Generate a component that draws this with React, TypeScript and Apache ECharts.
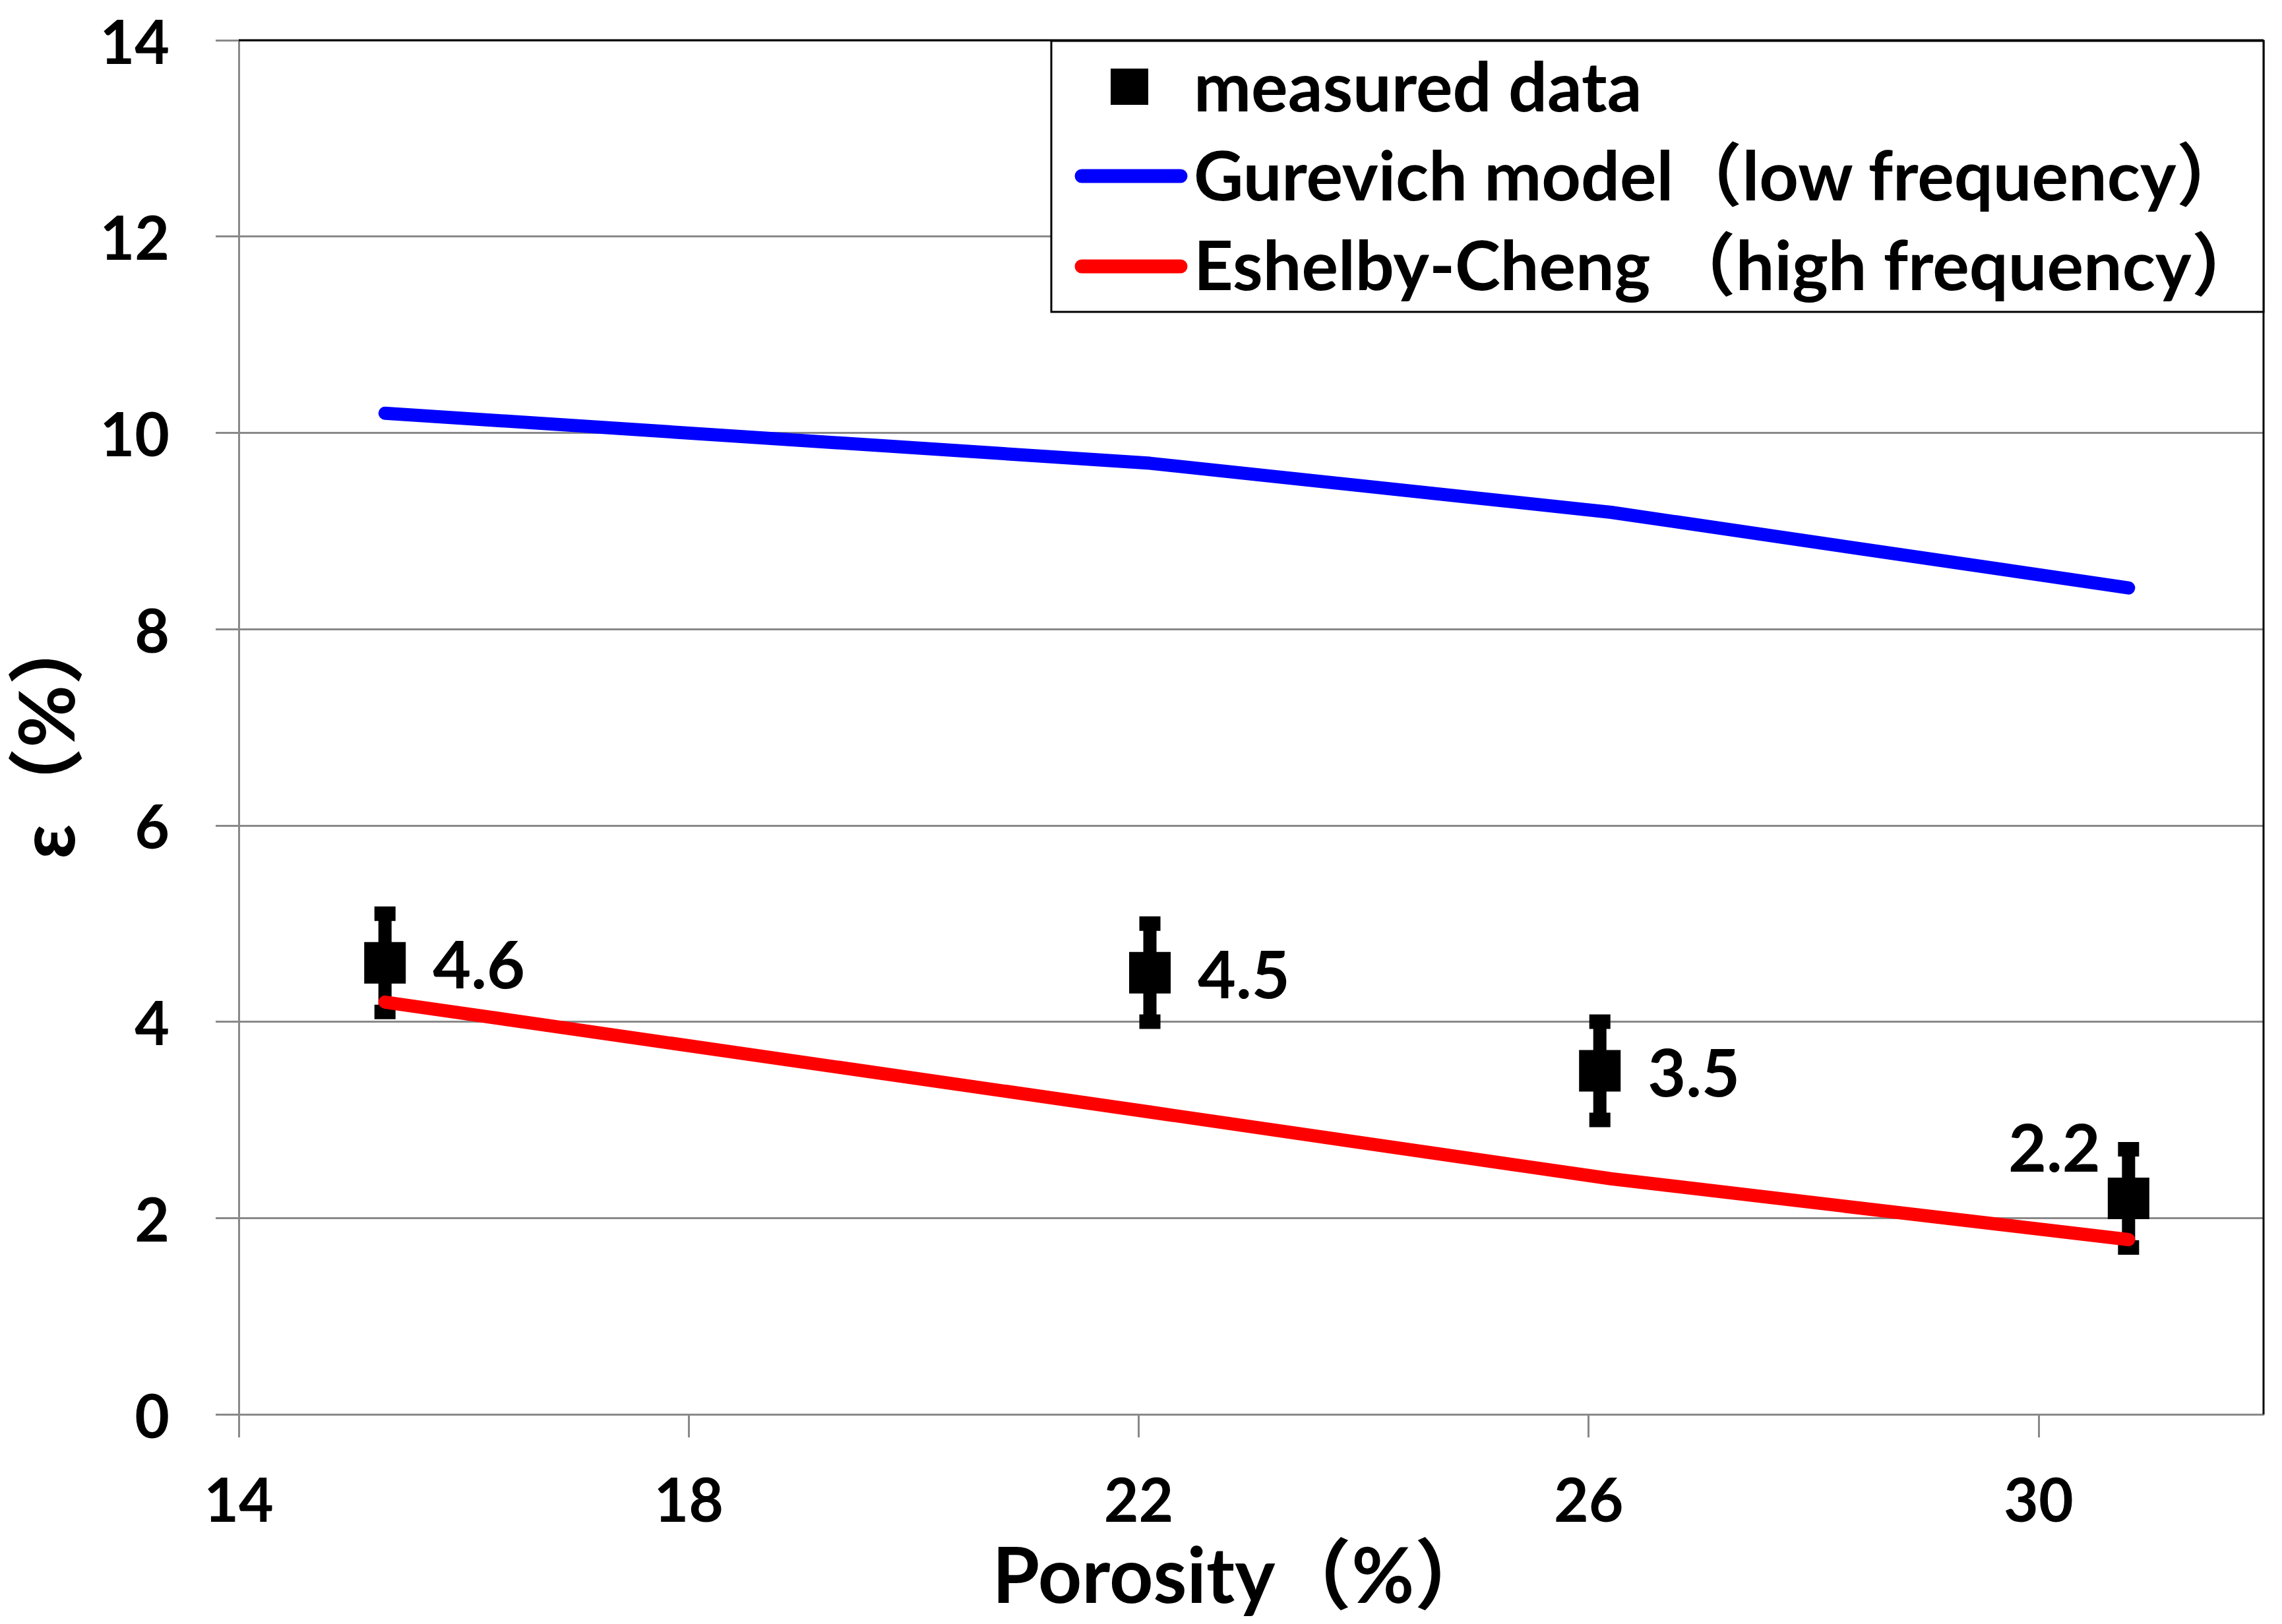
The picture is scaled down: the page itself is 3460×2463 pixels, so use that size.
import React, { useEffect, useRef } from 'react';
import * as echarts from 'echarts';

// ---- data ----
const measuredX = [15.3, 22.1, 26.1, 30.8];
const measuredY = [4.6, 4.5, 3.5, 2.2];
const measuredErr = [0.5, 0.5, 0.5, 0.5];
const modelX = [15.3, 22.1, 26.2, 30.8];
const gurevichY = [10.2, 9.69, 9.19, 8.42];
const eshelbyY = [4.2, 3.08, 2.4, 1.78];
const xTickValues = [14, 18, 22, 26, 30];
const legendNames = [
  'measured data',
  'Gurevich model（low frequency）',
  'Eshelby-Cheng （high frequency）',
];
const xAxisTitle = 'Porosity（%）';
const yAxisTitle = 'ε（%）';

// ---- layout ----
const W = 3460;
const H = 2463;
const GL = 362;
const GT = 61;
const GR = 3432;
const GB = 2145;
const FONT = "Lato, 'Noto Sans CJK SC', sans-serif";
const GRAY = '#898989';

export default function App() {
  const ref = useRef<HTMLDivElement>(null);
  useEffect(() => {
    if (!ref.current) return;
    const chart = echarts.init(ref.current, null, { renderer: 'svg', width: W, height: H });
    const errData = measuredX.map((x, i) => [x, measuredY[i], measuredErr[i]]);
    const scatterData = measuredX.map((x, i) => {
      const item: any = { value: [x, measuredY[i]] };
      if (i === measuredX.length - 1) {
        item.label = { position: 'left', distance: 11, offset: [0, -80] };
      }
      return item;
    });
    const legendText = (text: string, y: number) => ({
      type: 'text',
      z: 101,
      x: 1810,
      y,
      style: { text, fontFamily: FONT, fontWeight: 'bold', fontSize: 104, fill: '#000', align: 'left', verticalAlign: 'middle' },
    });
    const option: any = {
      animation: false,
      backgroundColor: '#fff',
      grid: { left: GL, top: GT, width: GR - GL, height: GB - GT, show: false },
      xAxis: {
        type: 'value',
        min: 14,
        max: 32,
        interval: 2,
        name: xAxisTitle,
        nameLocation: 'middle',
        nameGap: 191,
        nameTextStyle: { fontFamily: FONT, fontWeight: 'bold', fontSize: 116, lineHeight: 100, color: '#000', padding: [0, 29, 0, 0] },
        axisLine: { show: true, lineStyle: { color: GRAY, width: 3 } },
        axisTick: { show: true, inside: false, length: 35, lineStyle: { color: GRAY, width: 3 }, customValues: xTickValues },
        axisLabel: { show: true, margin: 92, lineHeight: 70, fontFamily: FONT, fontWeight: 'bold', fontSize: 91, color: '#000', customValues: xTickValues },
        splitLine: { show: false },
      },
      yAxis: {
        type: 'value',
        min: 0,
        max: 14,
        interval: 2,
        name: yAxisTitle,
        nameLocation: 'middle',
        nameRotate: 90,
        nameGap: 236,
        nameTextStyle: { fontFamily: FONT, fontWeight: 'bold', fontSize: 116, color: '#000', padding: [0, 20, 0, 0] },
        axisLine: { show: true, lineStyle: { color: GRAY, width: 3 } },
        axisTick: { show: true, inside: false, length: 35, lineStyle: { color: GRAY, width: 3 } },
        axisLabel: { show: true, margin: 105, fontFamily: FONT, fontWeight: 'bold', fontSize: 91, color: '#000' },
        splitLine: { show: true, lineStyle: { color: GRAY, width: 3 } },
      },
      series: [
        {
          type: 'custom',
          name: 'error',
          z: 2,
          encode: { x: 0, y: 1 },
          data: errData,
          renderItem: (params: any, api: any) => {
            const x = api.value(0);
            const y = api.value(1);
            const e = api.value(2);
            const top = api.coord([x, y + e]);
            const bot = api.coord([x, y - e]);
            return {
              type: 'group',
              children: [
                { type: 'rect', shape: { x: top[0] - 10, y: top[1], width: 20, height: bot[1] - top[1] }, style: { fill: '#000' } },
                { type: 'rect', shape: { x: top[0] - 16, y: top[1] - 11, width: 32, height: 22 }, style: { fill: '#000' } },
                { type: 'rect', shape: { x: bot[0] - 16, y: bot[1] - 11, width: 32, height: 22 }, style: { fill: '#000' } },
              ],
            };
          },
        },
        {
          type: 'line',
          name: legendNames[1],
          z: 3,
          data: modelX.map((x, i) => [x, gurevichY[i]]),
          symbol: 'none',
          lineStyle: { color: '#0000FF', width: 20, cap: 'round', join: 'round' },
        },
        {
          type: 'line',
          name: legendNames[2],
          z: 3,
          data: modelX.map((x, i) => [x, eshelbyY[i]]),
          symbol: 'none',
          lineStyle: { color: '#FF0000', width: 20, cap: 'round', join: 'round' },
        },
        {
          type: 'scatter',
          name: legendNames[0],
          z: 4,
          symbol: 'rect',
          symbolSize: 63,
          itemStyle: { color: '#000', opacity: 1 },
          data: scatterData,
          label: {
            show: true,
            position: 'right',
            distance: 41,
            formatter: (p: any) => p.value[1].toFixed(1),
            fontFamily: FONT,
            fontWeight: 'bold',
            fontSize: 100,
            color: '#000',
            opacity: 1,
          },
        },
      ],
      graphic: [
        { type: 'line', z: 100, shape: { x1: GL, y1: GT, x2: GR, y2: GT }, style: { stroke: '#000', lineWidth: 3 } },
        { type: 'line', z: 100, shape: { x1: GR, y1: GT, x2: GR, y2: GB }, style: { stroke: '#000', lineWidth: 3 } },
        { type: 'rect', z: 100, shape: { x: 1594, y: 62, width: GR - 1594, height: 411 }, style: { fill: '#fff', stroke: '#000', lineWidth: 3 } },
        { type: 'rect', z: 101, shape: { x: 1684, y: 104, width: 57, height: 55 }, style: { fill: '#000' } },
        { type: 'line', z: 101, shape: { x1: 1640, y1: 267, x2: 1790, y2: 267 }, style: { stroke: '#0000FF', lineWidth: 21, lineCap: 'round' } },
        { type: 'line', z: 101, shape: { x1: 1640, y1: 404, x2: 1790, y2: 404 }, style: { stroke: '#FF0000', lineWidth: 21, lineCap: 'round' } },
        legendText(legendNames[0], 128),
        legendText(legendNames[1], 263),
        legendText(legendNames[2], 399),
      ],
    };
    chart.setOption(option);
    return () => chart.dispose();
  }, []);
  return <div ref={ref} style={{ position: 'absolute', left: 0, top: 0, width: W, height: H }} />;
}
